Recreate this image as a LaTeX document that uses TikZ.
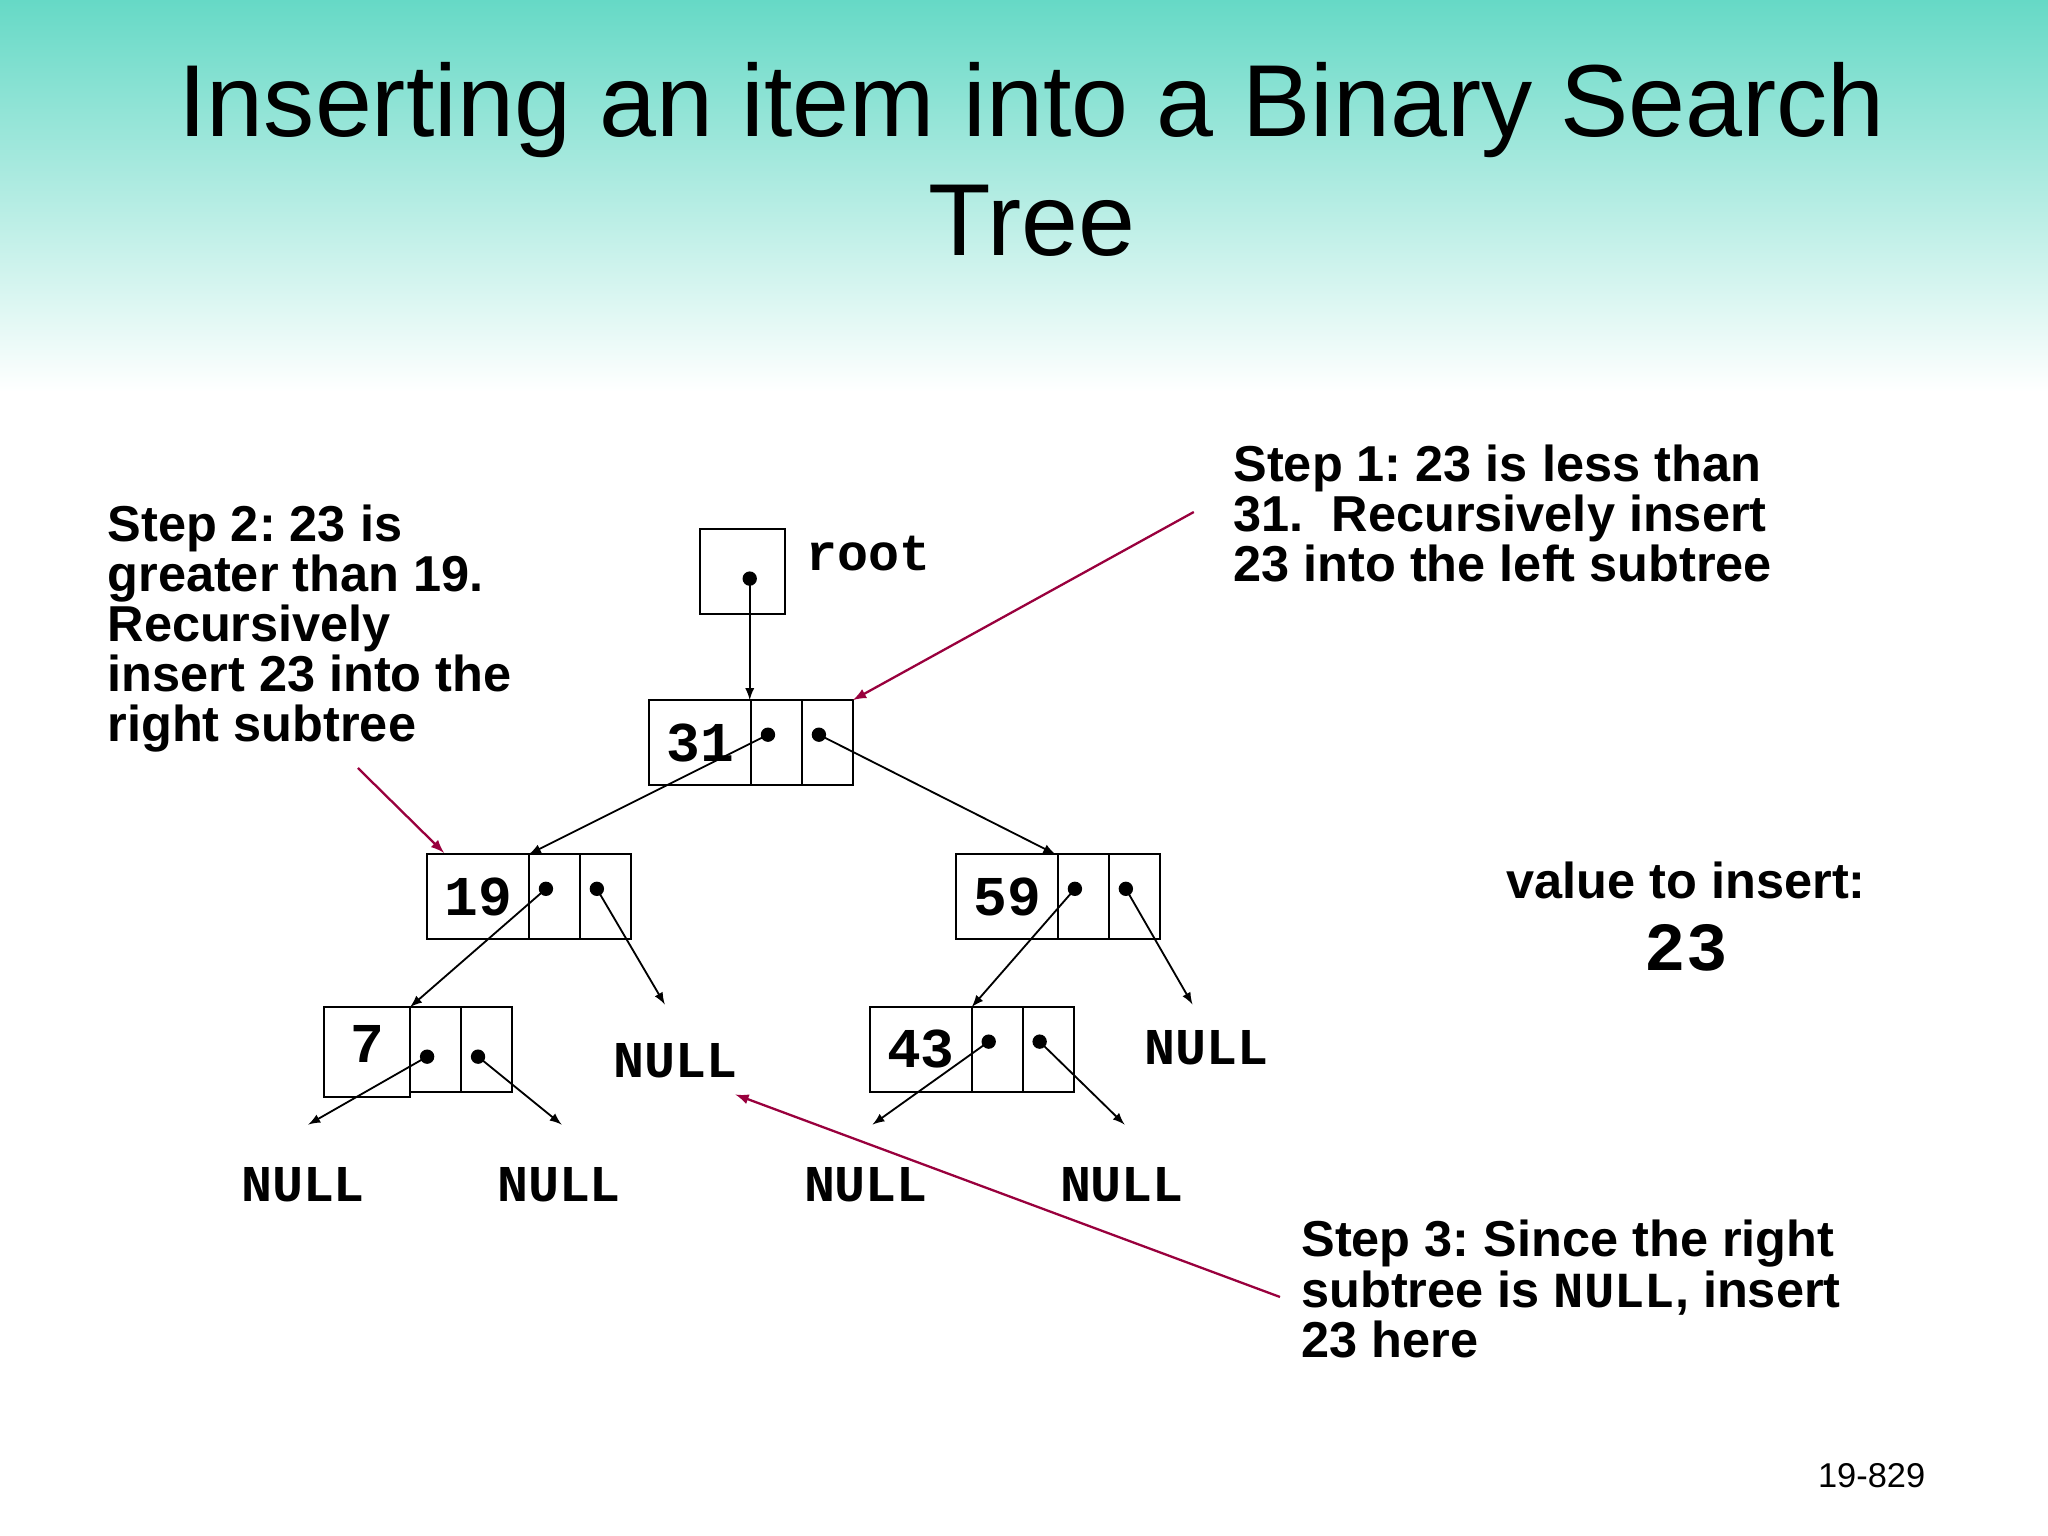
\documentclass[tikz,border=0pt]{standalone}
\usepackage{fontspec}
\setmainfont{Liberation Sans}
\setmonofont{Liberation Mono}
\frenchspacing
\definecolor{teal1}{HTML}{66D9C6}
\definecolor{wine}{HTML}{99003D}
\tikzset{
 cell/.style={draw,line width=0.8pt,inner sep=0,outer sep=0,minimum height=1.3cm},
 val/.style={cell,minimum width=1.56cm,font=\ttfamily\bfseries\fontsize{24.5}{26}\selectfont},
 ptr/.style={cell,minimum width=0.78cm},
 dotp/.style={circle,fill,inner sep=0,minimum size=0.22cm},
 link/.style={-latex,line width=0.8pt},
 redarrow/.style={-latex,line width=1pt,wine},
 nulltxt/.style={font=\ttfamily\bfseries\fontsize{22.5}{24}\selectfont},
 steptxt/.style={align=left,anchor=north west,inner sep=0,font=\bfseries\fontsize{22}{21.8}\selectfont}
}
\newcommand{\tnode}[4]{% name, x, y (left,top), label
 \node[val,anchor=north west] (#1v) at (#2,#3) {#4};
 \node[ptr,anchor=north west] (#1l) at (#1v.north east) {};
 \node[ptr,anchor=north west] (#1r) at (#1l.north east) {};
 \node[dotp] (#1ld) at ([xshift=-0.13cm,yshift=0.12cm]#1l.center) {};
 \node[dotp] (#1rd) at ([xshift=-0.13cm,yshift=0.12cm]#1r.center) {};
}
\begin{document}
\begin{tikzpicture}[x=0.02cm,y=-0.02cm]
\useasboundingbox (0,0) rectangle (1568,1176);
\shade[top color=teal1,bottom color=white] (0,0) rectangle (1568,300);
\node[align=center,font=\fontsize{44.6}{52}\selectfont] (title) at (790,122) {Inserting an item into a Binary Search\\Tree};
% root
\node[cell,minimum width=1.3cm,anchor=north west] (root) at (536,405) {};
\node[dotp] (rootd) at (574,443) {};
\node[anchor=west,inner sep=0,font=\ttfamily\bfseries\fontsize{22.5}{24}\selectfont] (rootl) at (617,424) {root};
\tnode{a}{497}{536}{31}
\tnode{b}{327}{654}{19}
\tnode{c}{732}{654}{59}
\node[val,minimum width=1.32cm,minimum height=1.38cm,anchor=north west] (dv) at (248,771) {\raisebox{0.25cm}{7}};
\node[ptr,anchor=north west] (dl) at (314,771) {};
\node[ptr,anchor=north west] (dr) at (dl.north east) {};
\node[dotp] (dld) at (327,809) {};
\node[dotp] (drd) at (366,809) {};
\tnode{e}{666}{771}{43}
\draw[link] (rootd.center) -- (574,536);
\draw[link] (ald.center) -- (bv.north east);
\draw[link] (ard.center) -- (808,654);
\draw[link] (bld.center) -- (dv.north east);
\coordinate (n1a) at (509,769);
\draw[link] (brd.center) -- (n1a);
\draw[link] (cld.center) -- (ev.north east);
\coordinate (n2a) at (913,769);
\draw[link] (crd.center) -- (n2a);
\coordinate (n3a) at (236,861);\coordinate (n4a) at (430,861);
\coordinate (n5a) at (668,861);\coordinate (n6a) at (861,861);
\draw[link] (dld.center) -- (n3a);
\draw[link] (drd.center) -- (n4a);
\draw[link] (eld.center) -- (n5a);
\draw[link] (erd.center) -- (n6a);
\node[nulltxt] (n1) at (517,812) {NULL};
\node[nulltxt] (n2) at (924,802) {NULL};
\node[nulltxt] (n3) at (232,907) {NULL};
\node[nulltxt] (n4) at (428,907) {NULL};
\node[nulltxt] (n5) at (663,907) {NULL};
\node[nulltxt] (n6) at (859,907) {NULL};
% texts
\node[steptxt] (s1) at (944,340) {Step 1: 23 is less than\\31.\ \ Recursively insert\\23 into the left subtree};
\node[steptxt] (s2) at (82,386) {Step 2: 23 is\\greater than 19.\\Recursively\\insert 23 into the\\right subtree};
\node[steptxt] (s3) at (996,934) {Step 3: Since the right\\subtree is {\ttfamily NULL}, insert\\23 here};
\node[font=\bfseries\fontsize{22}{24}\selectfont] (vi) at (1291,674) {value to insert:};
\node[font=\ttfamily\bfseries\fontsize{30}{32}\selectfont] (vn) at (1291,726) {23};
\node[font=\fontsize{15}{17}\selectfont] (pg) at (1433,1130) {19-829};
\coordinate (r1s) at (914,392);\coordinate (r2s) at (274,588);\coordinate (r3s) at (980,993);
\draw[redarrow] (r1s) -- (ar.north east);
\draw[redarrow] (r2s) -- (340,653);
\draw[redarrow] (r3s) -- (563,838);
\end{tikzpicture}
\end{document}
